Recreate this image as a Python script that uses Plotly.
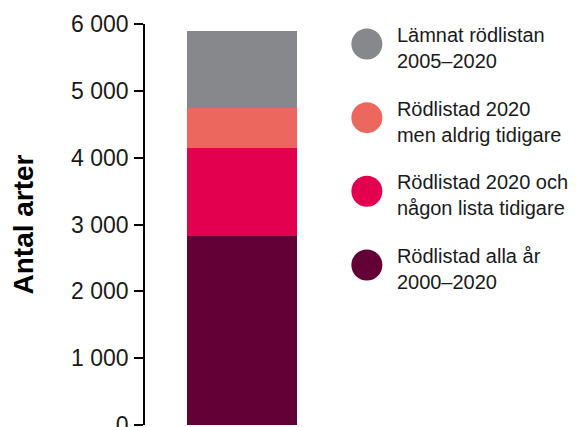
import plotly.graph_objects as go

# stacked single bar: bottom to top
series = ["Rödlistad alla år<br>2000–2020",
          "Rödlistad 2020 och<br>någon lista tidigare",
          "Rödlistad 2020<br>men aldrig tidigare",
          "Lämnat rödlistan<br>2005–2020"]
values = [2835, 1310, 605, 1145]
colors = ["#630036", "#e2004f", "#ec675d", "#87888c"]
tick_vals = [0, 1000, 2000, 3000, 4000, 5000, 6000]
tick_text = ["0", "1 000", "2 000", "3 000", "4 000", "5 000", "6 000"]

font = "Liberation Sans, Arial, Helvetica, sans-serif"
ink = "#1a1a1a"

fig = go.Figure()
for name, v, c in zip(series, values, colors):
    fig.add_trace(go.Bar(x=[0], y=[v], name=name, marker=dict(color=c, line=dict(width=0)),
                         width=0.567, showlegend=False))

# legend drawn as big circles with text on a side axis
idx = list(range(len(series)))
fig.add_trace(go.Scatter(
    x=[0] * len(series), y=idx, mode="markers",
    marker=dict(size=31, color=colors),
    xaxis="x2", yaxis="y2", cliponaxis=False, showlegend=False, hoverinfo="skip"))
fig.add_trace(go.Scatter(
    x=[30] * len(series), y=idx, mode="text", text=series, textposition="middle right",
    textfont=dict(size=20, color=ink, family=font),
    xaxis="x2", yaxis="y3", cliponaxis=False, showlegend=False, hoverinfo="skip"))

# page body has an 8px margin, so the figure is a bit smaller than the window
fig.update_layout(
    width=570, height=419,
    barmode="stack",
    margin=dict(l=137, r=0, t=16, b=2),
    plot_bgcolor="white", paper_bgcolor="white",
    font=dict(family=font, color=ink, size=20),
    xaxis=dict(domain=[0, 0.448], range=[-0.5, 0.5], visible=False),
    yaxis=dict(range=[0, 6000], tickvals=tick_vals, ticktext=tick_text,
               automargin=False, ticklabeloverflow="allow",
               showgrid=False, zeroline=False, showline=True, linecolor="black", linewidth=1.5,
               ticks="outside", ticklen=9, tickwidth=1.5, tickcolor="black",
               ticklabelstandoff=1,
               tickfont=dict(size=23, color=ink),
               title=dict(text="<b>Antal arter</b>", font=dict(size=28, color="black"), standoff=34)),
    xaxis2=dict(domain=[0.45, 1.0], range=[-27, 211], visible=False, anchor="y2"),
    yaxis2=dict(domain=[0, 1], range=[-2.172, 3.271], visible=False, anchor="x2"),
    yaxis3=dict(domain=[0, 1], range=[-2.091, 3.352], visible=False, anchor="x2", overlaying="y2"),
)

fig.write_html("out.html")
